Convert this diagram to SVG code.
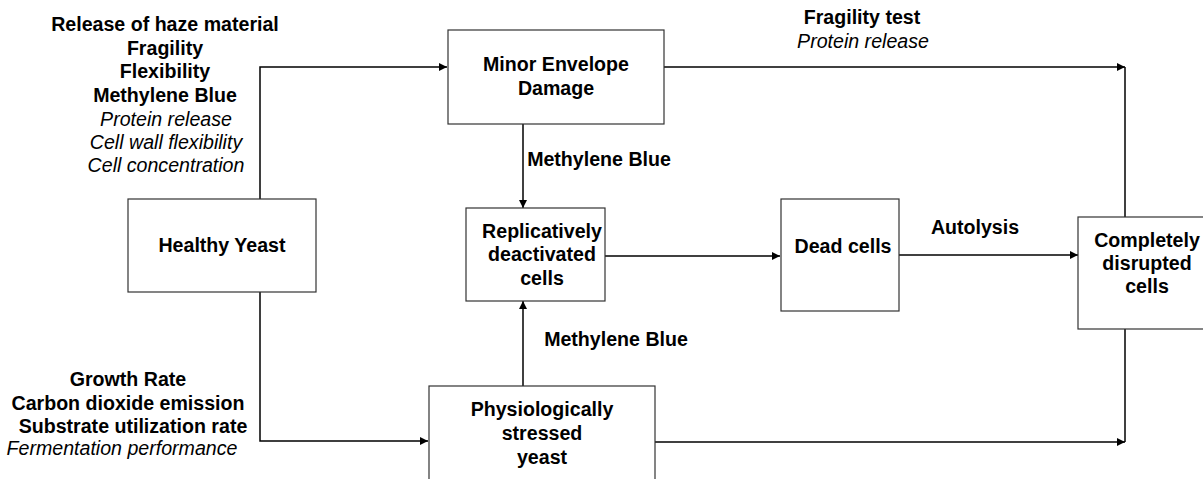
<svg xmlns="http://www.w3.org/2000/svg" width="1203" height="479" viewBox="0 0 1203 479">
<style>
text{font-family:"Liberation Sans",Arial,sans-serif;font-size:19.6px;fill:#000;text-anchor:middle;dominant-baseline:central}
.b{font-weight:bold}
.i{font-style:italic}
.box{fill:#fff;stroke:#333;stroke-width:1.2}
.ln{fill:none;stroke:#000;stroke-width:1.5}
</style>
<defs>
<marker id="ah" viewBox="0 0 10 10" refX="10" refY="5" markerWidth="8" markerHeight="11" markerUnits="userSpaceOnUse" orient="auto">
<path d="M0,0 L10,5 L0,10 z" fill="#000"/>
</marker>
</defs>
<g id="connectors">
<polyline class="ln" points="260,199 260,67 447,67" marker-end="url(#ah)"/>
<polyline class="ln" points="260,292 260,441 428,441" marker-end="url(#ah)"/>
<polyline class="ln" points="664,67 1125,67" marker-end="url(#ah)"/>
<line class="ln" x1="1125" y1="67" x2="1125" y2="217"/>
<line class="ln" x1="523" y1="124" x2="523" y2="208" marker-end="url(#ah)"/>
<line class="ln" x1="523" y1="386" x2="523" y2="301" marker-end="url(#ah)"/>
<line class="ln" x1="598" y1="256" x2="780" y2="256" marker-end="url(#ah)"/>
<line class="ln" x1="899" y1="255" x2="1078" y2="255" marker-end="url(#ah)"/>
<polyline class="ln" points="655,442 1125,442" marker-end="url(#ah)"/>
<line class="ln" x1="1125" y1="329" x2="1125" y2="442"/>
</g>
<g id="labels">
<text class="b" x="165" y="24">Release of haze material</text>
<text class="b" x="165" y="48">Fragility</text>
<text class="b" x="165" y="71">Flexibility</text>
<text class="b" x="165" y="95">Methylene Blue</text>
<text class="i" x="166" y="119">Protein release</text>
<text class="i" x="166" y="142">Cell wall flexibility</text>
<text class="i" x="166" y="165">Cell concentration</text>
<text class="b" x="128" y="379">Growth Rate</text>
<text class="b" x="128" y="403">Carbon dioxide emission</text>
<text class="b" x="133" y="426">Substrate utilization rate</text>
<text class="i" x="122" y="448">Fermentation performance</text>
<text class="b" x="862" y="17">Fragility test</text>
<text class="i" x="863" y="41">Protein release</text>
<text class="b" x="599" y="159">Methylene Blue</text>
<text class="b" x="616" y="339">Methylene Blue</text>
<text class="b" x="975" y="227">Autolysis</text>
</g>
<g id="healthy">
<rect class="box" x="128" y="199" width="188" height="93"/>
<text class="b" x="222" y="245">Healthy Yeast</text>
</g>
<g id="minor">
<rect class="box" x="448" y="30" width="216" height="94"/>
<text class="b" x="556" y="64">Minor Envelope</text>
<text class="b" x="556" y="88">Damage</text>
</g>
<g id="replicatively">
<rect class="box" x="466" y="208" width="139" height="93"/>
<text class="b" x="542" y="231">Replicatively</text>
<text class="b" x="542" y="254">deactivated</text>
<text class="b" x="542" y="278">cells</text>
</g>
<g id="dead">
<rect class="box" x="781" y="199" width="118" height="112"/>
<text class="b" x="843" y="246">Dead cells</text>
</g>
<g id="completely">
<rect class="box" x="1078" y="217" width="140" height="112"/>
<text class="b" x="1147" y="240">Completely</text>
<text class="b" x="1147" y="263">disrupted</text>
<text class="b" x="1147" y="286">cells</text>
</g>
<g id="physiologically">
<rect class="box" x="429" y="386" width="226" height="100"/>
<text class="b" x="542" y="409">Physiologically</text>
<text class="b" x="542" y="433">stressed</text>
<text class="b" x="542" y="457">yeast</text>
</g>
</svg>
